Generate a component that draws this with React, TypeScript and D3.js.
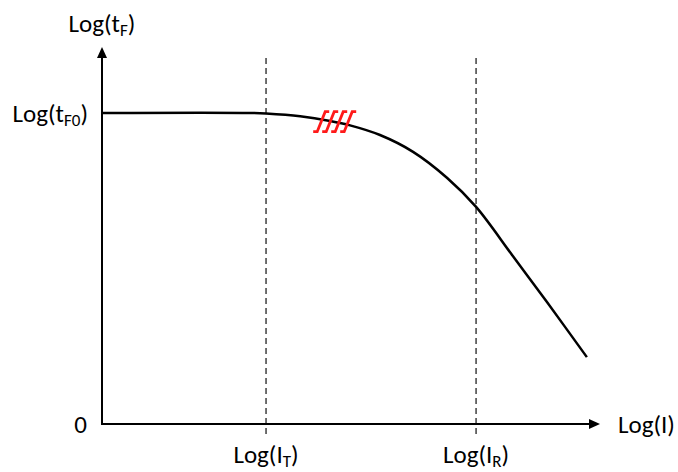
import React from "react";
import * as d3 from "d3";

// curve: x = log(I) units (I_T = 3, I_R = 7), y = tF / tF0
const logI = [-0.124, 2.7, 3.0, 3.65, 4.22, 4.6, 5.17, 5.8, 6.45, 7.0, 7.7, 8.35, 9.11];
const logTF = [1, 1, 0.998, 0.989, 0.974, 0.96, 0.929, 0.875, 0.791, 0.698, 0.54, 0.392, 0.215];

const markers = [
  { value: 3, label: "I", sub: "T" },
  { value: 7, label: "I", sub: "R" },
];
const hatchAt = 4.26; // where the red hatch sits on the curve
const hatchStripes = [0, 1, 2, 3];

const W = 678;
const H = 472;
const FONT = "Carlito, Calibri, Lato, 'Open Sans', sans-serif";

export default function App() {
  const x = d3.scaleLinear().domain([-0.124, 9.36]).range([102, 600]);
  const y = d3.scaleLinear().domain([0, 1.212]).range([424, 47]);

  const line = d3
    .line<number>()
    .x((d, i) => x(logI[i]))
    .y((d) => y(d))
    .curve(d3.curveCatmullRom.alpha(0.5));

  const hx = x(hatchAt);
  const hy = y(0.972);

  return (
    <svg width={W} height={H} style={{ position: "absolute", left: 0, top: 0, background: "#fff" }}>
      <rect width={W} height={H} fill="#fff" />
      {/* dashed guides */}
      {markers.map((m) => (
        <line
          key={m.sub}
          x1={x(m.value)}
          x2={x(m.value)}
          y1={y(1.177)}
          y2={434}
          stroke="#404040"
          strokeWidth={1.5}
          strokeDasharray="6,4"
        />
      ))}
      {/* axes */}
      <line x1={x.range()[0]} x2={x.range()[1] - 8} y1={y(0)} y2={y(0)} stroke="#000" strokeWidth={2} />
      <path d={`M${x.range()[1]},${y(0)} l-11,-5 l0,10 z`} fill="#000" />
      <line x1={x.range()[0]} x2={x.range()[0]} y1={y(0) + 1} y2={y.range()[1] + 8} stroke="#000" strokeWidth={2} />
      <path d={`M${x.range()[0]},${y.range()[1]} l-5,11 l10,0 z`} fill="#000" />
      {/* curve */}
      <path d={line(logTF) || ""} fill="none" stroke="#000" strokeWidth={2.5} />
      {/* red hatch */}
      {hatchStripes.map((i) => {
        const bx = hx - 15 + i * 9;
        const top = hy - 10;
        const bot = hy + 10;
        return (
          <path
            key={i}
            d={`M${bx + 12},${top} L${bx + 8},${top} L${bx},${bot} L${bx - 4},${bot}`}
            fill="none"
            stroke="#ff1a1a"
            strokeWidth={2.8}
          />
        );
      })}
      {/* labels */}
      <g fontFamily={FONT} fill="#000">
        <text x={102} y={32} fontSize={25} textAnchor="middle">
          Log(t<tspan fontSize={17} dy={4}>F</tspan><tspan dy={-4}>)</tspan>
        </text>
        <text x={88} y={122} fontSize={25} textAnchor="end">
          Log(t<tspan fontSize={17} dy={4}>F0</tspan><tspan dy={-4}>)</tspan>
        </text>
        <text x={87} y={433} fontSize={25} textAnchor="end">0</text>
        <text x={618} y={433} fontSize={25}>Log(I)</text>
        {markers.map((m) => (
          <text key={m.sub} x={x(m.value)} y={463} fontSize={25} textAnchor="middle">
            Log({m.label}<tspan fontSize={17} dy={4}>{m.sub}</tspan><tspan dy={-4}>)</tspan>
          </text>
        ))}
      </g>
    </svg>
  );
}
